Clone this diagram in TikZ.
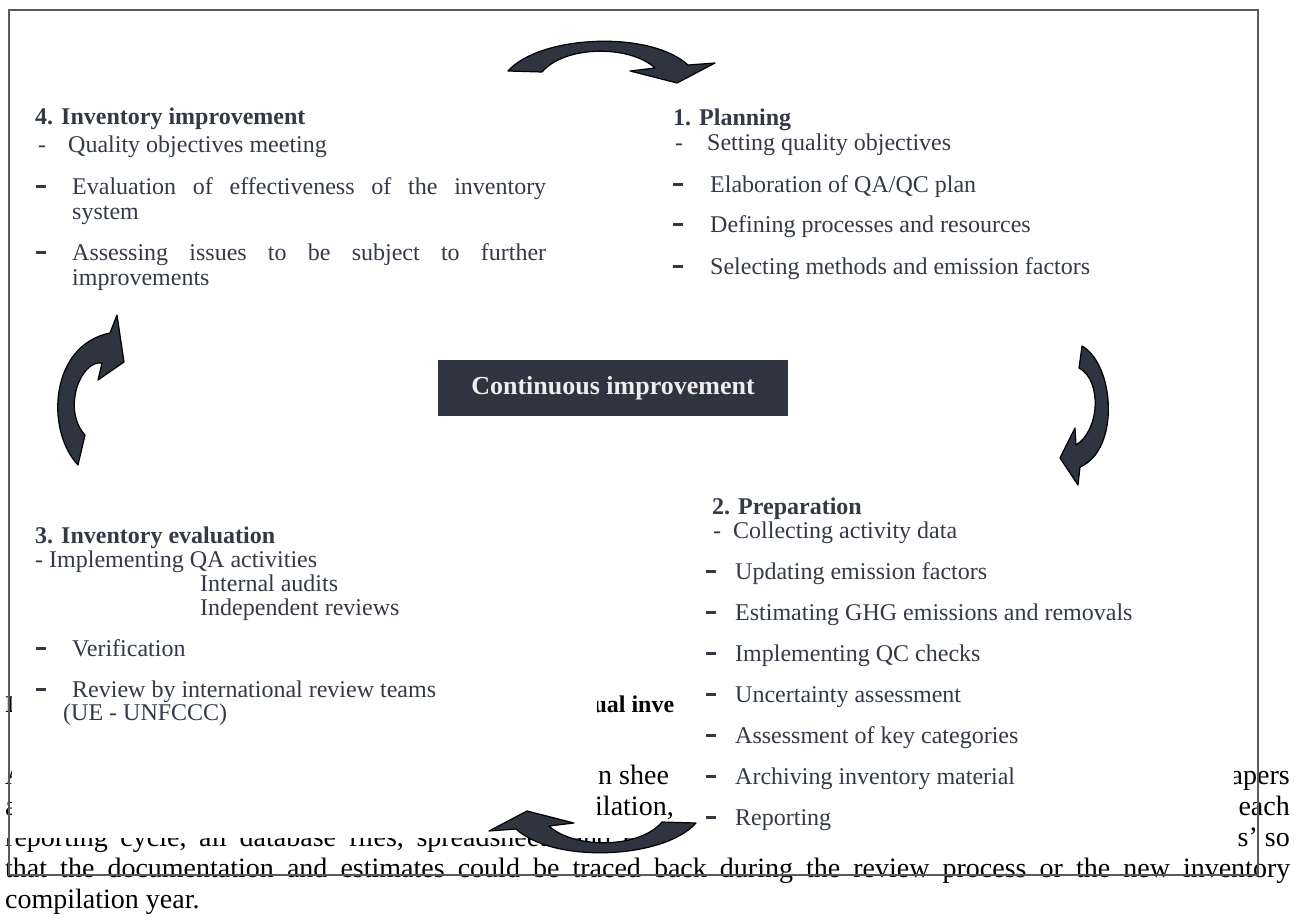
\documentclass[tikz,border=0pt]{standalone}
\usepackage{fontspec}
\setmainfont{Liberation Serif}
\definecolor{slate}{HTML}{2E3440}
\definecolor{txt}{HTML}{333A46}
\definecolor{framegray}{HTML}{5A5A5A}
\tikzset{
  bg/.style={anchor=base west, inner sep=0pt, font=\fontsize{28}{31}\selectfont, text=black},
  bgr/.style={bg, anchor=base east},
  bgh/.style={bg, font=\fontsize{24}{27}\selectfont\bfseries},
  dg/.style={anchor=base west, inner sep=0pt, font=\fontsize{24}{26}\selectfont, text=txt},
  dgh/.style={dg, font=\fontsize{24}{26}\selectfont\bfseries},
  thickdash/.style={dg},
  cover/.style={fill=white, draw=none},
  blockarrow/.style={fill=slate, draw=black, line width=1.2pt, line join=round},
  framebox/.style={draw=framegray, line width=1.3pt},
  centerbox/.style={fill=slate, text=white!93!black, inner sep=0pt,
    minimum width=350pt, minimum height=56pt, font=\fontsize{26}{28}\selectfont\bfseries}
}
\newcommand{\thickbar}{\rule[6pt]{10pt}{3pt}}
\begin{document}
\begin{tikzpicture}[x=1pt,y=-1pt]
\useasboundingbox (0,0) rectangle (1295,919);

% ---- document text lying under the figure ----
\node[bgh] (bgHa) at (5,712) {I};
\node[bgh] (bgHb) at (580,712) {nual inve};
\node[bg] (bgAa) at (5,784) {A};
\node[bg] (bgAb) at (584,784) {on shee};
\node[bgr] (bgAc) at (1290,784) {papers};
\node[bg] (bgBa) at (5,815) {a};
\node[bg] (bgBb) at (581,815) {pilation,};
\node[bgr] (bgBc) at (1290,815) {each};
\node[bg] (bgCa) at (5,846) {\spaceskip=0.45em reporting cycle, all database files, spreadsheets and ele};
\node[bgr] (bgCb) at (1290,846) {s’ so};
\node[bg] (bgD) at (5,877) {\makebox[1285pt][s]{that the documentation and estimates could be traced back during the review process or the new inventory}};
\node[bg] (bgE) at (5,908) {compilation year.};

% ---- white text boxes of the figure ----
\fill[cover] (12,480) rectangle (597,838);
\fill[cover] (0,826) rectangle (674,838);
\fill[cover] (674,495) rectangle (1234,856);

% ---- frame ----
\draw[framebox] (9,10) rectangle (1258,875);

% ---- 4. Inventory improvement ----
\node[dgh] (h4) at (35,124) {4. Inventory improvement};
\node[dg] (d4a) at (38,152) {-};
\node[dg] (t4a) at (68,152) {Quality objectives meeting};
\node[thickdash] (d4b) at (36,194) {\thickbar};
\node[dg] (t4b) at (72,194) {\makebox[474pt][s]{Evaluation of effectiveness of the inventory}};
\node[dg] (t4b2) at (72,219) {system};
\node[thickdash] (d4c) at (36,260) {\thickbar};
\node[dg] (t4c) at (72,260) {\makebox[474pt][s]{Assessing issues to be subject to further}};
\node[dg] (t4c2) at (72,285) {improvements};

% ---- 1. Planning ----
\node[dgh] (h1) at (673,125) {1. Planning};
\node[dg] (d1a) at (675,150) {-};
\node[dg] (t1a) at (707,150) {Setting quality objectives};
\node[thickdash] (d1b) at (673,192) {\thickbar};
\node[dg] (t1b) at (710,192) {Elaboration of QA/QC plan};
\node[thickdash] (d1c) at (673,232) {\thickbar};
\node[dg] (t1c) at (710,232) {Defining processes and resources};
\node[thickdash] (d1d) at (673,274) {\thickbar};
\node[dg] (t1d) at (710,274) {Selecting methods and emission factors};

% ---- centre ----
\node[centerbox] (ci) at (613,388) {Continuous improvement};

% ---- 2. Preparation ----
\node[dgh] (h2) at (712,514) {2. Preparation};
\node[dg] (d2a) at (713,538) {-};
\node[dg] (t2a) at (733,538) {Collecting activity data};
\node[thickdash] (d2b) at (706,579) {\thickbar};
\node[dg] (t2b) at (735,579) {Updating emission factors};
\node[thickdash] (d2c) at (706,620) {\thickbar};
\node[dg] (t2c) at (735,620) {Estimating GHG emissions and removals};
\node[thickdash] (d2d) at (706,661) {\thickbar};
\node[dg] (t2d) at (735,661) {Implementing QC checks};
\node[thickdash] (d2e) at (706,702) {\thickbar};
\node[dg] (t2e) at (735,702) {Uncertainty assessment};
\node[thickdash] (d2f) at (706,743) {\thickbar};
\node[dg] (t2f) at (735,743) {Assessment of key categories};
\node[thickdash] (d2g) at (706,784) {\thickbar};
\node[dg] (t2g) at (735,784) {Archiving inventory material};
\node[thickdash] (d2h) at (706,825) {\thickbar};
\node[dg] (t2h) at (735,825) {Reporting};

% ---- 3. Inventory evaluation ----
\node[dgh] (h3) at (35,543) {3. Inventory evaluation};
\node[dg] (t3a) at (35,567) {- Implementing QA activities};
\node[dg] (t3b) at (200,591) {Internal audits};
\node[dg] (t3c) at (200,615) {Independent reviews};
\node[thickdash] (d3d) at (36,656) {\thickbar};
\node[dg] (t3d) at (72,656) {Verification};
\node[thickdash] (d3e) at (36,697) {\thickbar};
\node[dg] (t3e) at (72,697) {Review by international review teams};
\node[dg] (t3f) at (63,720) {(UE - UNFCCC)};

% ---- curved block arrows ----
% top: 4 -> 1
\draw[blockarrow] (508,71) .. controls (540,35) and (650,30) .. (688,65)
  -- (715,63) -- (677,83) -- (630,71) -- (655,68)
  .. controls (630,45) and (565,45) .. (542,72) -- cycle;
% right: 1 -> 2
\draw[blockarrow] (1082,346) .. controls (1115,365) and (1120,450) .. (1080,467)
  -- (1078,485) -- (1060,458) -- (1075,428) -- (1076,445)
  .. controls (1100,430) and (1102,380) .. (1079,368) -- cycle;
% bottom: 2 -> 3
\draw[blockarrow] (696,823) .. controls (664,859) and (554,864) .. (516,829)
  -- (489,831) -- (527,811) -- (574,823) -- (549,826)
  .. controls (574,849) and (639,849) .. (662,822) -- cycle;
% left: 3 -> 4
\draw[blockarrow] (78,465) .. controls (45,430) and (50,345) .. (110,333)
  -- (117,315) -- (124,362) -- (98,380) -- (102,363)
  .. controls (80,360) and (62,410) .. (85,435) -- cycle;
\end{tikzpicture}
\end{document}
